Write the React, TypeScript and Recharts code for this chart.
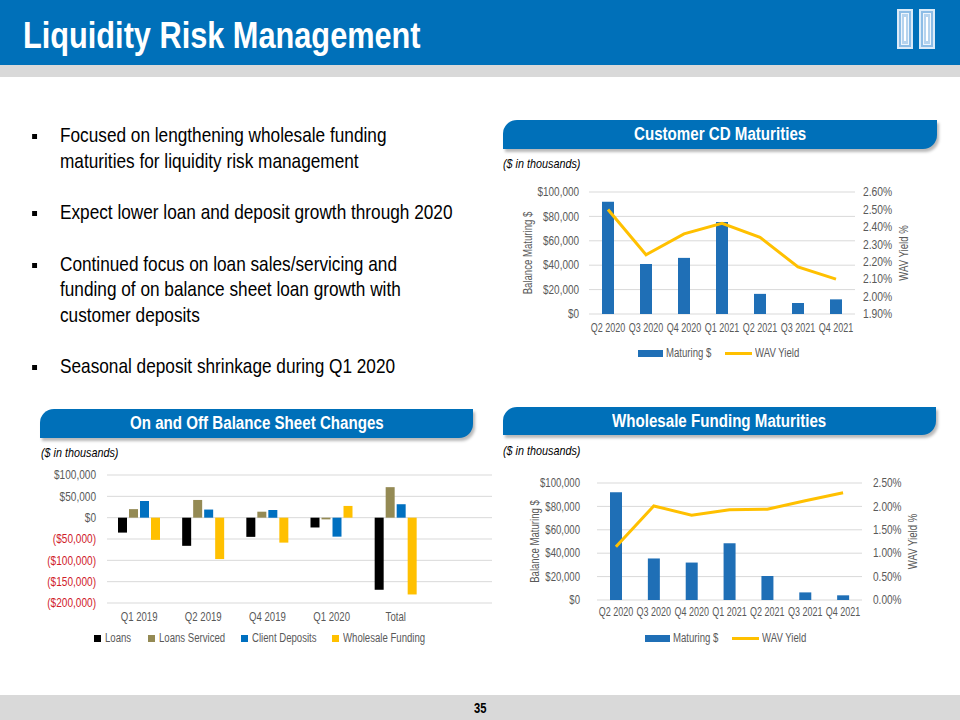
import React from 'react';
import {
  ComposedChart, BarChart, Bar, Line, XAxis, YAxis, CartesianGrid, Legend, Label,
} from 'recharts';

// ---------- data ----------
const cdQuarters = ['Q2 2020', 'Q3 2020', 'Q4 2020', 'Q1 2021', 'Q2 2021', 'Q3 2021', 'Q4 2021'];
const cdMaturing = [92000, 41000, 46000, 75500, 16500, 9000, 12000];
const cdYield = [2.5, 2.24, 2.36, 2.42, 2.34, 2.17, 2.1];

const wfQuarters = ['Q2 2020', 'Q3 2020', 'Q4 2020', 'Q1 2021', 'Q2 2021', 'Q3 2021', 'Q4 2021'];
const wfMaturing = [92000, 35500, 32000, 48500, 20500, 6500, 4000];
const wfYield = [1.14, 2.01, 1.81, 1.93, 1.94, 2.12, 2.29];

const bsPeriods = ['Q1 2019', 'Q2 2019', 'Q4 2019', 'Q1 2020', 'Total', ''];
const bsLoans = [-35000, -66000, -45000, -23000, -169000, null];
const bsLoansServiced = [20000, 41500, 14000, -4000, 71500, null];
const bsClientDeposits = [39000, 19000, 18000, -44500, 31500, null];
const bsWholesale = [-52000, -97000, -58500, 27500, -180000, null];
const bsSeriesNames = ['Loans', 'Loans Serviced', 'Client Deposits', 'Wholesale Funding'];

const balanceTicks = [0, 20000, 40000, 60000, 80000, 100000];
const cdYieldTicks = [1.9, 2.0, 2.1, 2.2, 2.3, 2.4, 2.5, 2.6];
const wfYieldTicks = [0, 0.5, 1.0, 1.5, 2.0, 2.5];
const bsTicks = [-200000, -150000, -100000, -50000, 0, 50000, 100000];

const bullets = [
  ['Focused on lengthening wholesale funding', 'maturities for liquidity risk management'],
  ['Expect lower loan and deposit growth through 2020'],
  ['Continued focus on loan sales/servicing and', 'funding of on balance sheet loan growth with', 'customer deposits'],
  ['Seasonal deposit shrinkage during Q1 2020'],
];

// ---------- style ----------
const FONT = '"Liberation Sans", Arial, sans-serif';
const K = 0.8; // horizontal condensing to mimic a narrow face
const BLUE = '#0070B9';
const BAR_BLUE = '#1F6FB6';
const YELLOW = '#FFC000';
const OLIVE = '#948A54';
const TXT = '#595959';
const RED = '#D0202A';
const GRID = '#D9D9D9';

const cdData = cdQuarters.map((q, i) => ({ q, maturing: cdMaturing[i], yield: cdYield[i] }));
const wfData = wfQuarters.map((q, i) => ({ q, maturing: wfMaturing[i], yield: wfYield[i] }));
const bsData = bsPeriods.map((p, i) => ({
  p, loans: bsLoans[i], serviced: bsLoansServiced[i], deposits: bsClientDeposits[i], wholesale: bsWholesale[i],
}));

let ctx: CanvasRenderingContext2D | null = null;
const measure = (text: string, font: string) => {
  if (!ctx) ctx = document.createElement('canvas').getContext('2d');
  ctx!.font = font;
  return ctx!.measureText(text).width;
};

const NText = ({ text, size, bold, italic, k = K }: any) => {
  const w = measure(text, `${italic ? 'italic ' : ''}${bold ? 'bold ' : ''}${size}px ${FONT}`);
  return (
    <span style={{ display: 'inline-block', width: w * k, whiteSpace: 'nowrap', fontSize: size, fontWeight: bold ? 'bold' : 'normal', fontStyle: italic ? 'italic' : 'normal' }}>
      <span style={{ display: 'inline-block', transform: `scaleX(${k})`, transformOrigin: 'left center' }}>{text}</span>
    </span>
  );
};

const money = (v: number) => {
  const s = '$' + Math.abs(v).toLocaleString('en-US');
  return v < 0 ? `(${s})` : s;
};

const NarrowTick = (props: any) => {
  const { x, y, payload, textAnchor, verticalAnchor, fmt, colorNeg, k = K } = props;
  const v = payload.value;
  const label = fmt ? fmt(v) : String(v);
  const dy = verticalAnchor === 'start' ? '0.71em' : '0.355em';
  const fill = colorNeg && typeof v === 'number' && v < 0 ? RED : TXT;
  return (
    <g transform={`translate(${x},${y}) scale(${k},1)`}>
      <text x={0} y={0} dy={dy} textAnchor={textAnchor} fontSize={12} fontFamily={FONT} fill={fill}>{label}</text>
    </g>
  );
};

const AxisTitle = (props: any) => {
  const { viewBox, value, side, off } = props;
  if (!viewBox) return null;
  const { x, y, width, height } = viewBox;
  const cx = side === 'left' ? x + off : x + width - off;
  const cy = y + height / 2;
  return (
    <text transform={`translate(${cx},${cy}) rotate(-90) scale(${K},1)`} textAnchor="middle" dy="0.355em" fontSize={12} fontFamily={FONT} fill={TXT}>
      {value}
    </text>
  );
};

const makeLegend = (padLeft: number, square: boolean, order?: string[]) => (props: any) => {
  let payload = [...(props.payload || [])];
  if (order) payload.sort((a: any, b: any) => order.indexOf(a.value) - order.indexOf(b.value));
  return (
    <div style={{
      display: 'flex', justifyContent: 'center', alignItems: 'center', paddingLeft: padLeft,
      fontFamily: FONT, fontSize: 12, color: TXT, height: 16, gap: square ? 16 : 14,
    }}>
      {payload.map((e: any) => (
        <div key={e.value} style={{ display: 'flex', alignItems: 'center' }}>
          {e.type === 'line' ? (
            <div style={{ width: 27, height: 3, background: e.color, marginRight: 3 }} />
          ) : square ? (
            <div style={{ width: 7, height: 7, background: e.color, marginRight: 4 }} />
          ) : (
            <div style={{ width: 25, height: 7, background: e.color, marginRight: 3 }} />
          )}
          <NText text={e.value} size={12} />
        </div>
      ))}
    </div>
  );
};

const Tab = ({ left, top, width, height, text }: any) => (
  <div style={{
    position: 'absolute', left, top, width, height, background: BLUE,
    borderRadius: '14px 0 14px 0', boxShadow: '2px 3px 3px rgba(0,0,0,0.28)',
    color: '#fff', fontFamily: FONT, display: 'flex', alignItems: 'center', justifyContent: 'center',
  }}><NText text={text} size={18} bold k={0.84} /></div>
);

const Note = ({ left, top }: any) => (
  <div style={{ position: 'absolute', left, top, fontFamily: FONT, color: '#000', lineHeight: '16px' }}>
    <NText text="($ in thousands)" size={13} italic k={0.83} />
  </div>
);

const Pillar = ({ left }: any) => (
  <div style={{ position: 'absolute', left, top: 9, width: 16, height: 40, border: '2px solid #DCEBF8', boxSizing: 'border-box', background: '#8DBDE6' }}>
    <div style={{ position: 'absolute', left: 2, top: 2, right: 2, bottom: 2, border: '1px solid #EEF5FC', background: '#B5D3EE' }}>
      <div style={{ position: 'absolute', left: 2, top: 3, right: 2, bottom: 3, border: '1px solid #FFFFFF' }} />
    </div>
  </div>
);

const moneyFmt = (v: number) => money(v);
const pctFmt = (v: number) => v.toFixed(2) + '%';

export default function App() {
  return (
    <div style={{ position: 'fixed', left: 0, top: 0, width: 960, height: 720, background: '#fff', overflow: 'hidden', fontFamily: FONT }}>
      {/* header */}
      <div style={{ position: 'absolute', left: 0, top: 0, width: 960, height: 65, background: BLUE }} />
      <div style={{ position: 'absolute', left: 0, top: 65, width: 960, height: 12, background: '#D9D9D9' }} />
      <div style={{ position: 'absolute', left: 23, top: 17, lineHeight: '37px', color: '#fff' }}>
        <NText text="Liquidity Risk Management" size={37} bold k={0.83} />
      </div>
      <Pillar left={897} />
      <Pillar left={919} />

      {/* bullets */}
      <div style={{ position: 'absolute', left: 60, top: 122, width: 600, fontSize: 21, lineHeight: '25.5px', color: '#000', whiteSpace: 'nowrap', transform: 'scaleX(0.82)', transformOrigin: 'left top' }}>
        {bullets.map((lines, i) => (
          <div key={i} style={{ position: 'relative', marginBottom: 26 }}>
            <div style={{ position: 'absolute', left: -34, top: 12, width: 6, height: 5, background: '#000' }} />
            {lines.map((l, j) => <div key={j}>{l}</div>)}
          </div>
        ))}
      </div>

      {/* Customer CD Maturities */}
      <Tab left={503} top={120} width={434} height={29} text="Customer CD Maturities" />
      <Note left={503} top={155} />
      <div style={{ position: 'absolute', left: 500, top: 170 }}>
        <ComposedChart width={420} height={200} data={cdData} margin={{ top: 22, right: 0, bottom: 9, left: 0 }}>
          <CartesianGrid vertical={false} stroke={GRID} yAxisId="left" />
          <XAxis dataKey="q" interval={0} tick={<NarrowTick k={0.75} />} tickLine={false} axisLine={false} tickSize={0} tickMargin={9} height={31} />
          <YAxis yAxisId="left" width={89} domain={[0, 100000]} ticks={balanceTicks} interval={0} tick={<NarrowTick fmt={moneyFmt} k={0.83} />} tickLine={false} axisLine={false} tickSize={0} tickMargin={10}>
            <Label value="Balance Maturing $" content={<AxisTitle side="left" off={28} />} />
          </YAxis>
          <YAxis yAxisId="right" orientation="right" width={65} domain={[1.9, 2.6]} ticks={cdYieldTicks} interval={0} tick={<NarrowTick fmt={pctFmt} k={0.86} />} tickLine={false} axisLine={false} tickSize={0} tickMargin={8}>
            <Label value="WAV Yield %" content={<AxisTitle side="right" off={16} />} />
          </YAxis>
          <Bar yAxisId="left" dataKey="maturing" name="Maturing $" fill={BAR_BLUE} barSize={12} isAnimationActive={false} />
          <Line yAxisId="right" dataKey="yield" name="WAV Yield" stroke={YELLOW} strokeWidth={3} dot={false} type="linear" isAnimationActive={false} />
          <Legend verticalAlign="bottom" wrapperStyle={{ left: 0, width: 420, height: 16 }} content={makeLegend(17, false, ['Maturing $', 'WAV Yield'])} />
        </ComposedChart>
      </div>

      {/* Wholesale Funding Maturities */}
      <Tab left={503} top={407} width={433} height={28} text="Wholesale Funding Maturities" />
      <Note left={503} top={442} />
      <div style={{ position: 'absolute', left: 500, top: 460 }}>
        <ComposedChart width={427} height={195} data={wfData} margin={{ top: 23, right: 0, bottom: 9, left: 0 }}>
          <CartesianGrid vertical={false} stroke={GRID} yAxisId="left" />
          <XAxis dataKey="q" interval={0} tick={<NarrowTick k={0.75} />} tickLine={false} axisLine={false} tickSize={0} tickMargin={7} height={30} />
          <YAxis yAxisId="left" width={97} domain={[0, 100000]} ticks={balanceTicks} interval={0} tick={<NarrowTick fmt={moneyFmt} k={0.8} />} tickLine={false} axisLine={false} tickSize={0} tickMargin={17}>
            <Label value="Balance Maturing $" content={<AxisTitle side="left" off={35} />} />
          </YAxis>
          <YAxis yAxisId="right" orientation="right" width={65} domain={[0, 2.5]} ticks={wfYieldTicks} interval={0} tick={<NarrowTick fmt={pctFmt} k={0.84} />} tickLine={false} axisLine={false} tickSize={0} tickMargin={11}>
            <Label value="WAV Yield %" content={<AxisTitle side="right" off={14} />} />
          </YAxis>
          <Bar yAxisId="left" dataKey="maturing" name="Maturing $" fill={BAR_BLUE} barSize={12} isAnimationActive={false} />
          <Line yAxisId="right" dataKey="yield" name="WAV Yield" stroke={YELLOW} strokeWidth={3} dot={false} type="linear" isAnimationActive={false} />
          <Legend verticalAlign="bottom" wrapperStyle={{ left: 0, width: 427, height: 16 }} content={makeLegend(25, false, ['Maturing $', 'WAV Yield'])} />
        </ComposedChart>
      </div>

      {/* On and Off Balance Sheet Changes */}
      <Tab left={40} top={409} width={433} height={29} text="On and Off Balance Sheet Changes" />
      <Note left={41} top={444} />
      <div style={{ position: 'absolute', left: 20, top: 455 }}>
        <BarChart width={480} height={200} data={bsData} margin={{ top: 20, right: 8, bottom: 9, left: 0 }} barGap={2}>
          <CartesianGrid vertical={false} stroke={GRID} />
          <XAxis dataKey="p" interval={0} tick={<NarrowTick k={0.8} />} tickLine={false} axisLine={false} tickSize={0} tickMargin={9} height={27} />
          <YAxis width={87} domain={[-200000, 100000]} ticks={bsTicks} interval={0} tick={<NarrowTick fmt={moneyFmt} colorNeg k={0.84} />} tickLine={false} axisLine={false} tickSize={0} tickMargin={11} />
          <Bar dataKey="loans" name={bsSeriesNames[0]} fill="#000000" barSize={9} isAnimationActive={false} />
          <Bar dataKey="serviced" name={bsSeriesNames[1]} fill={OLIVE} barSize={9} isAnimationActive={false} />
          <Bar dataKey="deposits" name={bsSeriesNames[2]} fill="#0070C0" barSize={9} isAnimationActive={false} />
          <Bar dataKey="wholesale" name={bsSeriesNames[3]} fill={YELLOW} barSize={9} isAnimationActive={false} />
          <Legend verticalAlign="bottom" wrapperStyle={{ left: 0, width: 480, height: 16 }} content={makeLegend(0, true, bsSeriesNames)} />
        </BarChart>
      </div>

      {/* footer */}
      <div style={{ position: 'absolute', left: 0, top: 695, width: 960, height: 25, background: '#D9D9D9' }} />
      <div style={{ position: 'absolute', left: 0, top: 700, width: 960, textAlign: 'center', lineHeight: '16px', color: '#000' }}>
        <NText text="35" size={14} bold k={0.8} />
      </div>
    </div>
  );
}
